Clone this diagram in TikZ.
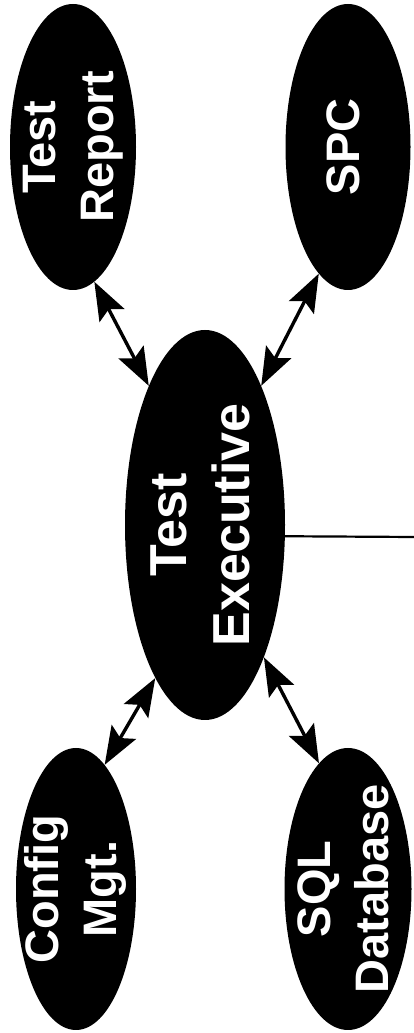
\documentclass[tikz,border=0pt]{standalone}
\usepackage{fontspec}
\setmainfont{Liberation Sans}
\usepackage{graphicx}
\usetikzlibrary{shapes.geometric,arrows.meta,calc}
% rotated label that does not size the ellipse
\newcommand{\vlabel}[1]{\makebox[0pt]{\raisebox{-.5\height}[0pt][0pt]{\rotatebox{90}{\begin{tabular}{@{}c@{}}#1\end{tabular}}}}}
\tikzset{
  blob/.style={ellipse, fill=black, text=white, inner sep=0pt, font=\bfseries\fontsize{47}{58}\selectfont},
  bigblob/.style={blob, font=\bfseries\fontsize{52}{63}\selectfont},
  barb/.tip={Stealth[length=38pt, width=28pt, inset=7pt]},
  link/.style={barb-barb, line width=3.4pt},
  wire/.style={line width=2.2pt}
}
\begin{document}
\begin{tikzpicture}[x=1pt, y=1pt]
    \useasboundingbox (0,0) rectangle (414,1033);
    \node[bigblob, minimum width=160pt, minimum height=390pt] (exec) at (205,508) {\vlabel{Test\\Executive}};
    \node[blob, minimum width=126pt, minimum height=286pt] (rep) at (73,886) {\vlabel{Test\\Report}};
    \node[blob, minimum width=125pt, minimum height=286pt] (spc) at (348,886) {\vlabel{SPC}};
    \node[blob, minimum width=120pt, minimum height=282pt] (cfg) at (76,144) {\vlabel{Config\\Mgt.}};
    \node[blob, minimum width=127pt, minimum height=282pt] (sql) at (348,144) {\vlabel{SQL\\Database}};
    \coordinate (out) at (414,496);
    \draw[link] (rep.279) -- (exec.112);
    \draw[link] (spc.257) -- (exec.68);
    \draw[link] (cfg.77) -- (exec.252);
    \draw[link] (sql.103) -- (exec.294);
    \draw[wire] (exec.-8.5) -- (out);
\end{tikzpicture}
\end{document}
